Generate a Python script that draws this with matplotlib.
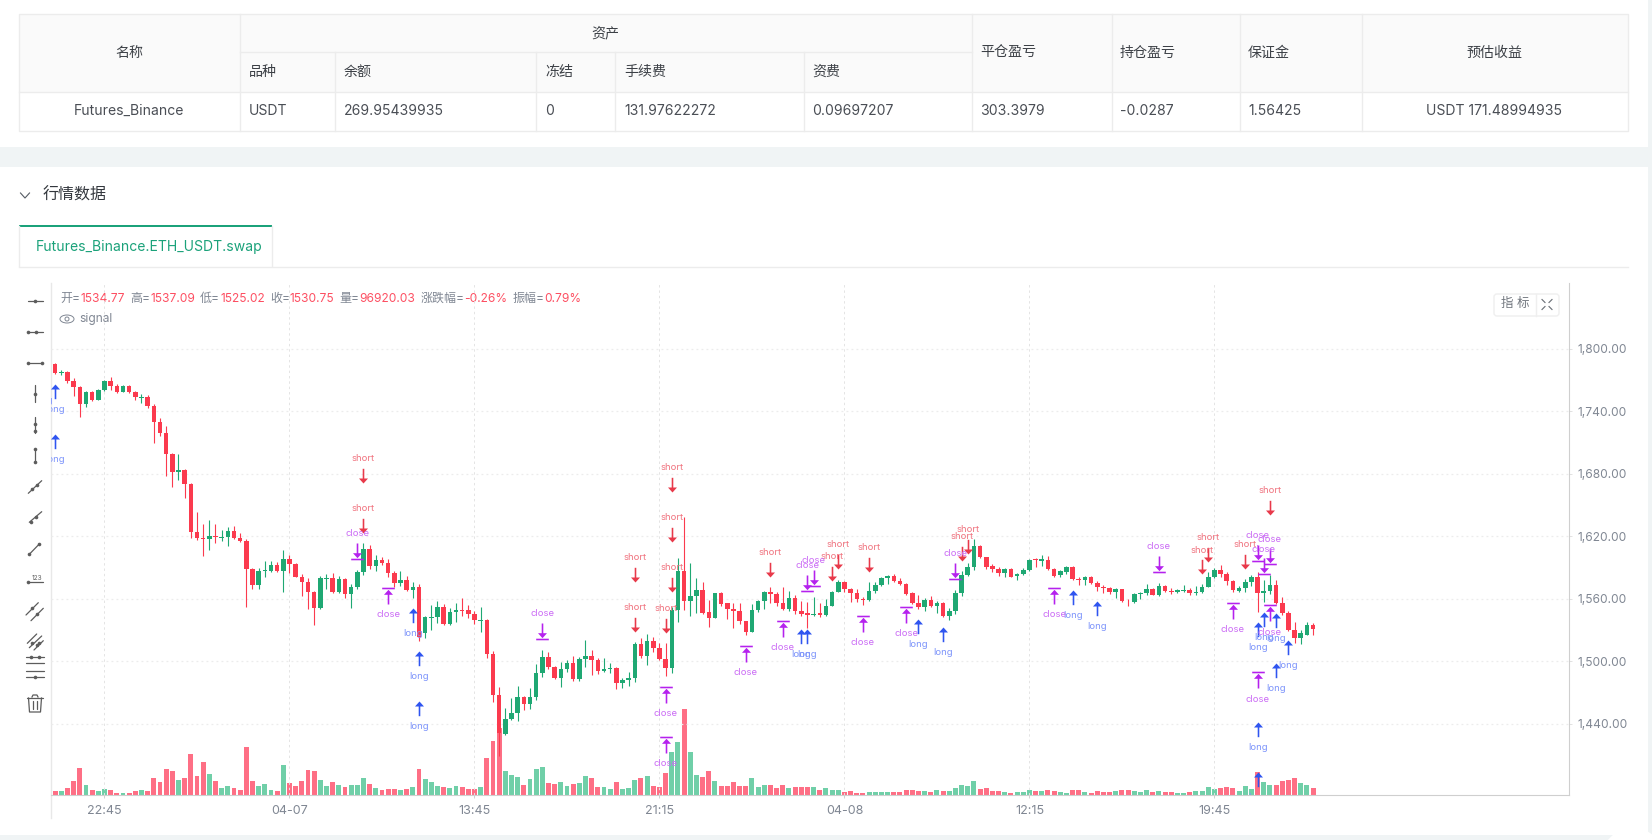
import numpy as np
import matplotlib
matplotlib.use('Agg')
import matplotlib.pyplot as plt
from matplotlib.path import Path
from matplotlib.patches import Rectangle, FancyBboxPatch, Ellipse, Circle

plt.rcParams['font.family'] = ['Inter', 'Noto Sans CJK SC', 'DejaVu Sans']

# table
asset_head = ['品种', '余额', '冻结', '手续费', '资费']
side_head = ['平仓盈亏', '持仓盈亏', '保证金']
row_left = ['USDT', '269.95439935', '0', '131.97622272', '0.09697207', '303.3979', '-0.0287', '1.56425']
row_name = 'Futures_Binance'
row_profit = 'USDT 171.48994935'

# 15 minute candles, the first one is cut by the left edge
opens = [
    1787.1, 1785.9, 1776.6, 1778.2, 1769.5, 1763.4, 1747.1, 1758.9, 1750.6, 1760.2,
    1769.5, 1764.7, 1758.3, 1764.7, 1758.9, 1752.9, 1753.8, 1745.5, 1729.8, 1719.2,
    1699.4, 1681.8, 1684.0, 1670.5, 1624.4, 1618.3, 1617.4, 1620.3, 1618.3, 1619.3,
    1625.1, 1618.7, 1615.5, 1588.9, 1572.9, 1586.9, 1586.9, 1592.4, 1586.3, 1598.2,
    1593.7, 1580.9, 1576.1, 1566.8, 1550.8, 1578.9, 1579.9, 1566.1, 1579.3, 1564.6,
    1571.0, 1585.4, 1608.2, 1591.5, 1597.3, 1594.7, 1585.1, 1574.9, 1578.4, 1568.1,
    1571.7, 1526.8, 1541.2, 1542.5, 1552.4, 1536.1, 1547.3, 1549.2, 1549.6, 1545.4,
    1538.7, 1540.0, 1507.3, 1467.6, 1429.8, 1444.2, 1450.3, 1465.9, 1458.6, 1465.6,
    1489.0, 1504.1, 1494.2, 1483.9, 1492.2, 1498.3, 1482.9, 1502.2, 1505.0, 1501.2,
    1490.3, 1492.6, 1493.5, 1478.8, 1482.0, 1483.9, 1516.6, 1505.0, 1519.5, 1513.1,
    1502.2, 1493.5, 1548.9, 1586.7, 1557.6, 1563.0, 1568.8, 1547.3, 1541.2, 1565.9,
    1555.7, 1550.2, 1548.6, 1538.7, 1527.8, 1548.9, 1558.2, 1566.9, 1564.6, 1556.0,
    1550.2, 1561.1, 1548.6, 1546.0, 1544.8, 1546.0, 1544.1, 1553.1, 1566.5, 1576.5,
    1569.4, 1565.6, 1560.1, 1558.5, 1567.2, 1573.0, 1580.0, 1581.9, 1577.1, 1574.5,
    1565.6, 1556.3, 1552.1, 1558.9, 1553.1, 1556.3, 1543.8, 1548.3, 1565.3, 1582.9,
    1590.2, 1611.1, 1600.5, 1591.8, 1589.0, 1584.8, 1589.0, 1582.2, 1583.8, 1587.7,
    1597.9, 1596.3, 1597.3, 1589.0, 1582.9, 1586.1, 1590.9, 1579.4, 1578.1, 1581.3,
    1575.5, 1571.4, 1570.4, 1566.2, 1569.4, 1558.2, 1556.6, 1564.9, 1565.9, 1569.4,
    1563.3, 1572.6, 1567.8, 1566.9, 1567.5, 1568.5, 1565.6, 1566.2, 1571.4, 1580.6,
    1587.7, 1583.8, 1577.1, 1567.5, 1570.4, 1576.2, 1581.0, 1565.9, 1567.5, 1573.3,
    1556.0, 1546.4, 1530.0, 1522.3, 1525.5, 1534.77]
highs = [
    1788.1, 1786.2, 1779.8, 1778.5, 1772.1, 1764.1, 1759.3, 1759.3, 1761.2, 1770.2,
    1773.0, 1766.3, 1765.4, 1765.4, 1759.6, 1756.4, 1755.4, 1746.8, 1733.3, 1726.0,
    1699.7, 1699.0, 1684.3, 1670.9, 1643.3, 1631.8, 1635.6, 1631.8, 1626.0, 1628.6,
    1629.9, 1622.8, 1617.1, 1589.2, 1589.2, 1596.2, 1596.2, 1595.3, 1606.8, 1601.7,
    1594.0, 1583.8, 1579.9, 1567.4, 1581.8, 1583.8, 1584.4, 1581.8, 1579.9, 1573.9,
    1587.7, 1613.3, 1611.4, 1602.1, 1599.9, 1598.3, 1587.0, 1587.0, 1581.9, 1576.5,
    1573.9, 1543.8, 1554.0, 1557.9, 1555.0, 1550.9, 1555.7, 1560.8, 1554.0, 1548.3,
    1552.1, 1540.6, 1509.9, 1475.3, 1454.8, 1464.4, 1476.2, 1466.9, 1474.3, 1497.4,
    1510.5, 1508.9, 1495.4, 1498.9, 1501.2, 1505.0, 1503.8, 1520.4, 1511.1, 1502.8,
    1502.8, 1498.6, 1494.8, 1483.9, 1489.4, 1518.8, 1522.7, 1525.9, 1523.6, 1517.2,
    1517.2, 1552.4, 1599.2, 1638.3, 1594.4, 1579.7, 1576.5, 1558.9, 1565.9, 1566.5,
    1555.7, 1555.7, 1555.7, 1538.7, 1555.0, 1558.5, 1567.2, 1571.4, 1566.5, 1571.4,
    1567.5, 1563.3, 1557.9, 1556.6, 1561.7, 1555.7, 1560.1, 1567.5, 1578.4, 1577.1,
    1570.1, 1569.1, 1562.1, 1575.8, 1576.5, 1581.3, 1582.9, 1583.5, 1580.3, 1574.9,
    1566.5, 1563.3, 1560.5, 1563.0, 1557.9, 1556.6, 1551.2, 1568.1, 1586.4, 1594.1,
    1617.2, 1611.7, 1600.5, 1593.1, 1590.9, 1589.9, 1589.6, 1584.5, 1589.3, 1597.9,
    1599.5, 1602.1, 1600.8, 1589.6, 1587.7, 1591.5, 1591.2, 1580.6, 1581.9, 1581.9,
    1576.8, 1573.6, 1571.7, 1570.7, 1569.7, 1559.5, 1565.3, 1566.5, 1573.9, 1570.7,
    1575.2, 1573.3, 1570.7, 1569.7, 1572.9, 1570.1, 1572.0, 1573.9, 1585.8, 1589.6,
    1592.2, 1585.8, 1578.1, 1572.3, 1578.7, 1582.6, 1585.4, 1578.1, 1583.2, 1577.8,
    1561.4, 1548.6, 1537.7, 1530.0, 1537.4, 1537.09]
lows = [
    1784.9, 1776.2, 1774.6, 1767.6, 1755.1, 1734.9, 1744.5, 1750.0, 1750.6, 1759.6,
    1760.6, 1758.0, 1758.3, 1757.7, 1750.9, 1747.7, 1743.6, 1709.9, 1716.7, 1678.2,
    1667.7, 1674.1, 1657.1, 1618.7, 1616.4, 1601.0, 1606.8, 1613.9, 1615.8, 1610.7,
    1617.1, 1614.8, 1552.4, 1569.7, 1569.7, 1581.2, 1585.7, 1585.7, 1566.8, 1585.0,
    1580.5, 1562.9, 1549.8, 1535.1, 1550.4, 1569.7, 1565.5, 1565.5, 1561.0, 1551.5,
    1569.4, 1583.2, 1588.3, 1586.7, 1592.5, 1581.3, 1571.7, 1572.6, 1567.8, 1560.8,
    1519.5, 1522.0, 1530.0, 1537.1, 1534.8, 1534.8, 1537.7, 1543.8, 1541.2, 1535.8,
    1528.4, 1503.5, 1460.8, 1409.0, 1429.1, 1443.5, 1442.6, 1453.2, 1454.4, 1462.8,
    1485.2, 1492.2, 1483.3, 1475.6, 1489.4, 1481.3, 1481.3, 1494.8, 1486.8, 1487.8,
    1489.4, 1489.0, 1473.7, 1474.6, 1476.2, 1480.1, 1503.1, 1496.4, 1508.9, 1501.2,
    1485.8, 1489.0, 1537.7, 1549.2, 1543.8, 1546.0, 1545.4, 1533.2, 1541.2, 1553.4,
    1540.6, 1532.3, 1535.5, 1525.5, 1527.8, 1547.0, 1550.2, 1556.3, 1553.4, 1549.2,
    1548.0, 1545.4, 1543.5, 1532.3, 1543.8, 1542.8, 1543.8, 1553.1, 1566.5, 1566.5,
    1556.9, 1557.3, 1554.4, 1557.9, 1565.3, 1572.3, 1574.5, 1576.2, 1572.9, 1563.7,
    1555.0, 1550.2, 1548.3, 1552.4, 1546.4, 1542.5, 1539.6, 1545.1, 1563.0, 1582.2,
    1588.0, 1599.5, 1588.6, 1585.8, 1582.2, 1581.0, 1580.6, 1578.1, 1583.2, 1586.7,
    1590.2, 1591.5, 1587.4, 1581.3, 1581.3, 1584.2, 1578.1, 1573.0, 1573.6, 1573.9,
    1567.8, 1565.9, 1564.9, 1561.1, 1557.3, 1553.4, 1556.3, 1559.8, 1563.3, 1563.3,
    1563.0, 1566.2, 1564.6, 1565.9, 1566.5, 1563.7, 1564.0, 1565.3, 1571.0, 1580.3,
    1581.0, 1573.3, 1566.5, 1566.5, 1566.5, 1572.3, 1547.3, 1556.6, 1564.3, 1555.3,
    1544.4, 1529.4, 1517.5, 1516.6, 1524.9, 1525.02]
closes = [
    1785.5, 1776.6, 1777.9, 1769.2, 1763.4, 1747.1, 1758.9, 1750.6, 1760.6, 1769.5,
    1764.4, 1758.3, 1764.7, 1758.3, 1753.5, 1753.8, 1744.9, 1729.8, 1719.2, 1699.0,
    1681.8, 1684.0, 1670.5, 1623.8, 1618.0, 1617.4, 1620.3, 1619.0, 1619.3, 1625.1,
    1618.0, 1615.1, 1588.6, 1572.9, 1586.9, 1587.9, 1592.4, 1586.3, 1598.2, 1593.4,
    1580.9, 1576.1, 1566.5, 1551.1, 1579.9, 1580.2, 1566.1, 1578.9, 1564.5, 1571.4,
    1586.1, 1608.2, 1591.5, 1597.3, 1594.1, 1584.5, 1574.9, 1578.4, 1568.1, 1571.4,
    1523.6, 1542.5, 1542.8, 1552.4, 1536.1, 1547.6, 1549.2, 1548.0, 1545.4, 1539.6,
    1540.0, 1507.0, 1467.3, 1430.7, 1444.8, 1450.3, 1465.6, 1458.6, 1465.6, 1489.0,
    1504.1, 1494.2, 1483.9, 1492.9, 1498.3, 1482.6, 1502.2, 1505.0, 1501.2, 1490.6,
    1492.9, 1493.8, 1479.1, 1482.0, 1484.2, 1516.9, 1504.7, 1519.5, 1512.7, 1502.2,
    1493.5, 1549.2, 1586.7, 1557.6, 1562.7, 1568.5, 1546.7, 1541.6, 1565.9, 1555.3,
    1550.2, 1548.3, 1538.7, 1527.8, 1549.2, 1558.2, 1566.9, 1564.9, 1556.0, 1550.2,
    1561.1, 1548.3, 1545.1, 1544.4, 1545.7, 1544.8, 1553.4, 1566.9, 1576.5, 1569.4,
    1565.9, 1560.1, 1558.5, 1567.5, 1573.6, 1580.3, 1582.2, 1576.8, 1574.2, 1564.3,
    1556.0, 1552.1, 1558.9, 1553.1, 1556.3, 1543.2, 1548.3, 1565.6, 1582.9, 1590.6,
    1611.1, 1599.9, 1590.9, 1588.6, 1584.8, 1589.0, 1581.3, 1583.8, 1587.7, 1597.6,
    1597.0, 1597.9, 1588.6, 1582.2, 1587.0, 1590.6, 1578.7, 1578.1, 1581.3, 1574.9,
    1571.0, 1570.1, 1566.2, 1569.4, 1557.6, 1557.6, 1564.6, 1565.9, 1569.4, 1563.3,
    1572.3, 1567.2, 1566.5, 1568.5, 1568.5, 1565.3, 1566.9, 1571.4, 1581.3, 1587.7,
    1583.8, 1577.1, 1568.5, 1570.4, 1576.2, 1581.3, 1565.9, 1567.8, 1573.3, 1556.0,
    1546.4, 1530.0, 1522.0, 1526.8, 1535.2, 1530.75]
# volume in thousands
volumes = [
    31, 57, 53, 92, 185, 356, 132, 66, 48, 79,
    62, 31, 31, 26, 57, 66, 57, 224, 167, 348,
    312, 198, 224, 541, 251, 431, 273, 185, 97, 119,
    88, 66, 629, 185, 119, 141, 66, 53, 396, 158,
    114, 189, 330, 317, 198, 119, 167, 132, 106, 136,
    136, 229, 150, 97, 62, 79, 79, 66, 79, 106,
    343, 211, 167, 123, 106, 88, 123, 106, 79, 75,
    101, 484, 708, 880, 317, 268, 233, 132, 211, 343,
    370, 158, 150, 176, 123, 150, 158, 255, 220, 106,
    106, 75, 172, 84, 92, 198, 229, 246, 119, 101,
    295, 563, 700, 1131, 568, 268, 233, 321, 180, 123,
    123, 172, 114, 114, 224, 110, 132, 132, 88, 132,
    97, 101, 101, 101, 110, 70, 97, 70, 66, 40,
    48, 26, 26, 44, 44, 44, 40, 44, 44, 66,
    70, 57, 57, 40, 70, 53, 57, 97, 128, 123,
    180, 84, 92, 53, 53, 44, 31, 40, 44, 62,
    57, 57, 66, 57, 44, 31, 66, 62, 40, 26,
    57, 44, 44, 57, 62, 70, 57, 35, 70, 44,
    53, 44, 44, 22, 31, 44, 57, 48, 101, 79,
    92, 101, 88, 57, 123, 75, 304, 167, 136, 136,
    180, 198, 229, 154, 128, 97]

tick_index = [9, 39, 69, 99, 129, 159, 189]
tick_labels = ['22:45', '04-07', '13:45', '21:15', '04-08', '12:15', '19:45']
price_ticks = [1440, 1500, 1560, 1620, 1680, 1740, 1800]

# signals: candle index, price the arrow points at
long_idx = [-1, 1, 1, 59, 60, 60, 122, 123, 141, 145, 166, 170, 196, 196, 196, 197, 199, 199, 201]
long_price = [1775.0, 1766.0, 1718.0, 1550.8, 1509.5, 1461.5, 1531.3, 1530.7, 1540.3, 1532.6,
              1568.2, 1557.6, 1537.4, 1441.3, 1393.3, 1547.0, 1546.0, 1498.0, 1520.1]
short_idx = [51, 51, 95, 95, 100, 101, 101, 101, 117, 127, 128, 133, 148, 149, 187, 188, 194, 198]
short_price = [1671.6, 1623.6, 1576.5, 1528.4, 1527.5, 1663.0, 1614.9, 1566.9, 1581.3, 1577.4,
               1589.0, 1586.1, 1596.6, 1603.1, 1583.8, 1595.4, 1589.0, 1640.9]
close_up_idx = [55, 100, 100, 113, 119, 132, 139, 163, 192, 196, 198]
close_up_price = [1570.7, 1475.6, 1427.5, 1515.0, 1539.0, 1543.8, 1552.4, 1570.7, 1556.3, 1489.4, 1553.7]
close_down_idx = [50, 80, 123, 124, 147, 180, 196, 197, 198]
close_down_price = [1598.6, 1521.4, 1567.8, 1572.6, 1579.4, 1585.8, 1596.6, 1583.8, 1593.4]

# legend text
legend_parts = [('开=', '1534.77'), ('高=', '1537.09'), ('低=', '1525.02'), ('收=', '1530.75'),
                ('量=', '96920.03'), ('涨跌幅=', '-0.26%'), ('振幅=', '0.79%')]

RED = '#fb3a4e'
GREEN = '#1fa873'
RED_VOL = '#fe6f85'
GREEN_VOL = '#70cfa8'
GRAY_TXT = '#808793'


def fs(px):
    return px * 0.72


fig = plt.figure(figsize=(16.52, 8.4), dpi=100, facecolor='#f0f4f5')

# page furniture is drawn in pixel coordinates
page = fig.add_axes([0, 0, 1, 1], zorder=0)
page.set_xlim(0, 1652)
page.set_ylim(840, 0)
page.axis('off')
page.add_patch(Rectangle((0, 0), 1648, 147, fc='white', ec='none'))
page.add_patch(Rectangle((0, 167), 1648, 668, fc='white', ec='none'))
page.add_patch(Circle((1633, 860), 32, fc='white', ec='none'))

# table
line_c = '#ececec'
page.add_patch(Rectangle((19, 13.5), 1609, 78, fc='#fafafa', ec='none'))
page.add_patch(Rectangle((19, 13.5), 1609, 117, fc='none', ec=line_c, lw=1))
page.plot([240, 971.5], [52, 52], color=line_c, lw=1)
page.plot([19, 1628], [91.5, 91.5], color=line_c, lw=1)
for x in [240, 971.5, 1111.5, 1239.5, 1361.5]:
    page.plot([x, x], [13.5, 130.5], color=line_c, lw=1)
for x in [334.5, 536, 615, 803.5]:
    page.plot([x, x], [52, 130.5], color=line_c, lw=1)

head_c = '#3c4046'
cell_c = '#4a4e55'
page.text(129, 53, '名称', ha='center', va='center', fontsize=fs(14), color=head_c, weight='medium')
page.text(605, 33, '资产', ha='center', va='center', fontsize=fs(14), color=head_c, weight='medium')
page.text(1494, 53, '预估收益', ha='center', va='center', fontsize=fs(14), color=head_c, weight='medium')
col_x = [248.5, 343.5, 545, 624.3, 812.5]
for x, s in zip(col_x, asset_head):
    page.text(x, 72, s, va='center', fontsize=fs(14), color=head_c, weight='medium')
for x, s in zip([980.4, 1120, 1248], side_head):
    page.text(x, 53, s, va='center', fontsize=fs(14), color=head_c, weight='medium')
for x, s in zip(col_x + [980.4, 1120, 1248], row_left):
    page.text(x, 111, s, va='center', fontsize=fs(14), color=cell_c)
page.text(129, 111, row_name, ha='center', va='center', fontsize=fs(14), color=cell_c)
page.text(1494, 111, row_profit, ha='center', va='center', fontsize=fs(14), color=cell_c)

# section title and tab
page.plot([20.5, 25, 29.5], [193, 198, 193], color='#555b63', lw=0.8)
page.text(43, 195, '行情数据', va='center', fontsize=fs(16), color='#33373d')
page.plot([19, 1628], [266.5, 266.5], color=line_c, lw=1)
page.plot([19, 19], [226, 266], color=line_c, lw=1)
page.plot([272, 272], [226, 266], color=line_c, lw=1)
page.add_patch(Rectangle((19, 225), 253, 2, fc='#1ba27a', ec='none'))
page.text(36, 247, 'Futures_Binance.ETH_USDT.swap', va='center', fontsize=fs(14), color='#1ba27a')

# drawing tools on the left
ic = '#5c5c5c'


def seg(x0, y0, x1, y1, lw=0.9):
    page.plot([x0, x1], [y0, y1], color=ic, lw=lw, solid_capstyle='round')


def dots(*pts):
    for x, y in pts:
        page.plot(x, y, 'o', color=ic, ms=2.6, mew=0)


seg(27.5, 300.7, 42.7, 300.7)
dots((35, 300.7))
seg(27.5, 331.7, 42.7, 331.7)
dots((28.3, 331.7), (36, 331.7))
seg(28.3, 362.7, 41.7, 362.7)
dots((28.3, 362.7), (41.7, 362.7))
seg(35, 385, 35, 402)
dots((35, 393.7))
seg(35, 417, 35, 433)
dots((35, 423.7), (35, 431))
seg(35, 449, 35, 462)
dots((35, 449), (35, 462))
seg(28.3, 493.3, 41.7, 480.7)
dots((32.3, 489.3), (37.3, 484.7))
seg(29.3, 522.3, 41.7, 511.7)
dots((30.7, 522), (35.7, 517.3))
seg(29.3, 554.3, 39.3, 544)
dots((29.3, 554.3), (39.3, 544))
seg(28.3, 582.3, 42.7, 582.3)
dots((28.3, 582.3))
page.text(36.5, 577.5, '123', ha='center', va='center', fontsize=fs(6.5), color=ic)
seg(26, 615, 38.3, 602.7)
seg(31, 620.7, 43.3, 608.3)
dots((32.3, 608.3), (37.3, 614))
seg(27.3, 643.3, 36.7, 634)
seg(29.3, 647.7, 41.7, 636)
seg(34, 650, 43.3, 640.7)
dots((32, 642.7), (36.5, 645), (39, 643))
for y in [657.3, 663.3, 670.7, 677.3]:
    seg(26, y, 44, y)
dots((31, 657.3), (39, 657.3), (35, 677.3))
# trash can
page.plot([28.5, 29.5, 40.5, 41.5], [698, 712, 712, 698], color=ic, lw=0.9)
seg(27, 698, 43, 698)
page.plot([32, 33, 37, 38], [697, 695, 695, 697], color=ic, lw=0.9)
seg(33.3, 701, 33.3, 709)
seg(36.7, 701, 36.7, 709)

# axis line on the left runs below the chart
page.plot([50.5, 50.5], [283, 818], color='#e8e8e8', lw=1)

# legend above the candles
page.figure.canvas.draw()
renderer = fig.canvas.get_renderer()
x = 60.7
for name, val in legend_parts:
    t = page.text(x, 299, name, va='center', fontsize=fs(12), color=GRAY_TXT, zorder=5)
    x = t.get_window_extent(renderer).x1
    t = page.text(x, 299, val, va='center', fontsize=fs(12), color='#fd4f62', zorder=5)
    x = t.get_window_extent(renderer).x1 + 5
page.add_patch(Ellipse((67, 319), 14, 8, fc='none', ec=GRAY_TXT, lw=0.7))
page.add_patch(Circle((67, 319), 2, fc='none', ec=GRAY_TXT, lw=0.7))
page.text(79, 319, 'signal', va='center', fontsize=fs(12), color=GRAY_TXT)

# price chart and volume share the same box
box = [50.5 / 1652, 45 / 840, (1569 - 50.5) / 1652, 512 / 840]
ax_vol = fig.add_axes(box, zorder=1)
ax = fig.add_axes(box, zorder=2, sharex=ax_vol)
ax_vol.patch.set_visible(False)
ax.patch.set_visible(False)

idx = np.arange(len(opens))
op = np.array(opens)
cl = np.array(closes)
up = cl >= op
vol_colors = [GREEN_VOL if u else RED_VOL for u in up]
candle_colors = [GREEN if u else RED for u in up]

ax_vol.bar(idx, volumes, width=0.8, color=vol_colors, linewidth=0)
ax_vol.set_ylim(0, 6758)
ax_vol.axis('off')

ax.vlines(idx, lows, highs, colors=candle_colors, linewidth=0.8, zorder=3)
ax.bar(idx, np.abs(cl - op), bottom=np.minimum(op, cl), width=0.74, color=candle_colors, linewidth=0, zorder=4)

ax.set_xlim(0.244, 246.5)
ax.set_ylim(1371.5, 1863.4)
ax.set_xticks(tick_index)
ax.set_xticklabels(tick_labels)
ax.set_yticks(price_ticks)
ax.set_yticklabels(['{:,.2f}'.format(p) for p in price_ticks])
ax.yaxis.tick_right()
ax.tick_params(axis='y', length=2.5, width=0.7, color='#e2e2e2', pad=3.5, labelsize=fs(12), labelcolor=GRAY_TXT)
ax.tick_params(axis='x', length=2.5, width=0.7, color='#d0d0d0', pad=4.5, labelsize=fs(12.5), labelcolor=GRAY_TXT)
ax.grid(axis='y', color='#ececec', linestyle=(0, (1.5, 2.5)), linewidth=0.9)
ax.grid(axis='x', color='#e4e4e4', linestyle=(0, (2.5, 3)), linewidth=0.7)
ax.set_axisbelow(True)
for name in ['top', 'left']:
    ax.spines[name].set_visible(False)
for name in ['bottom', 'right']:
    ax.spines[name].set_color('#cfcfcf')
    ax.spines[name].set_linewidth(0.8)


def poly(pts):
    return Path(pts + [pts[0]], closed=True)


def arrow_pts(tip, sign):
    # sign=1 points up, sign=-1 points down, sizes in pixels
    shaft = tip - sign * 14.7
    neck = tip - sign * 5
    return [(0, tip), (4.5, neck), (0.8, neck), (0.8, shaft), (-0.8, shaft), (-0.8, neck), (-4.5, neck)]


def bar_pts(y):
    return [(-6.3, y - 0.8), (6.3, y - 0.8), (6.3, y + 0.8), (-6.3, y + 0.8)]


marker_long = poly(arrow_pts(0, 1))
marker_short = poly(arrow_pts(0, -1))
marker_close_up = Path.make_compound_path(poly(bar_pts(0)), poly(arrow_pts(-1.3, 1)))
marker_close_down = Path.make_compound_path(poly(bar_pts(0)), poly(arrow_pts(1.3, -1)))


def draw_signals(xs, ps, marker, color, text, text_color, off):
    ms = 2 * np.abs(marker.vertices).max() * 0.72
    ax.plot(xs, ps, linestyle='none', marker=marker, ms=ms, mfc=color, mew=0, zorder=6)
    for i, p in zip(xs, ps):
        ax.annotate(text, (i, p), xytext=(0, off * 0.72), textcoords='offset points', ha='center', va='center',
                    fontsize=fs(9.5), color=text_color, zorder=7, clip_on=True, annotation_clip=False)


draw_signals(long_idx, long_price, marker_long, '#2f55f0', 'long', '#7e95fb', -25.5)
draw_signals(short_idx, short_price, marker_short, '#e8394a', 'short', '#f0737f', 24)
draw_signals(close_up_idx, close_up_price, marker_close_up, '#b521ee', 'close', '#cb6cf5', -27)
draw_signals(close_down_idx, close_down_price, marker_close_down, '#b521ee', 'close', '#cb6cf5', 25)

# button in the corner of the chart
top = fig.add_axes([0, 0, 1, 1], zorder=3)
top.set_xlim(0, 1652)
top.set_ylim(840, 0)
top.axis('off')
top.add_patch(FancyBboxPatch((1494, 294), 65, 22, boxstyle='round,pad=0,rounding_size=3', fc='white', ec='#efefef', lw=1))
top.plot([1535.5, 1535.5], [294, 316], color='#efefef', lw=1)
top.text(1515, 303.5, '指 标', ha='center', va='center', fontsize=fs(12.5), color='#70757d')
for sx in [-1, 1]:
    for sy in [-1, 1]:
        top.plot([1547 + sx * 2, 1547 + sx * 5], [304.5 + sy * 2, 304.5 + sy * 5], color='#666b73', lw=0.8)

fig.savefig('out.png', dpi=100, facecolor=fig.get_facecolor())
